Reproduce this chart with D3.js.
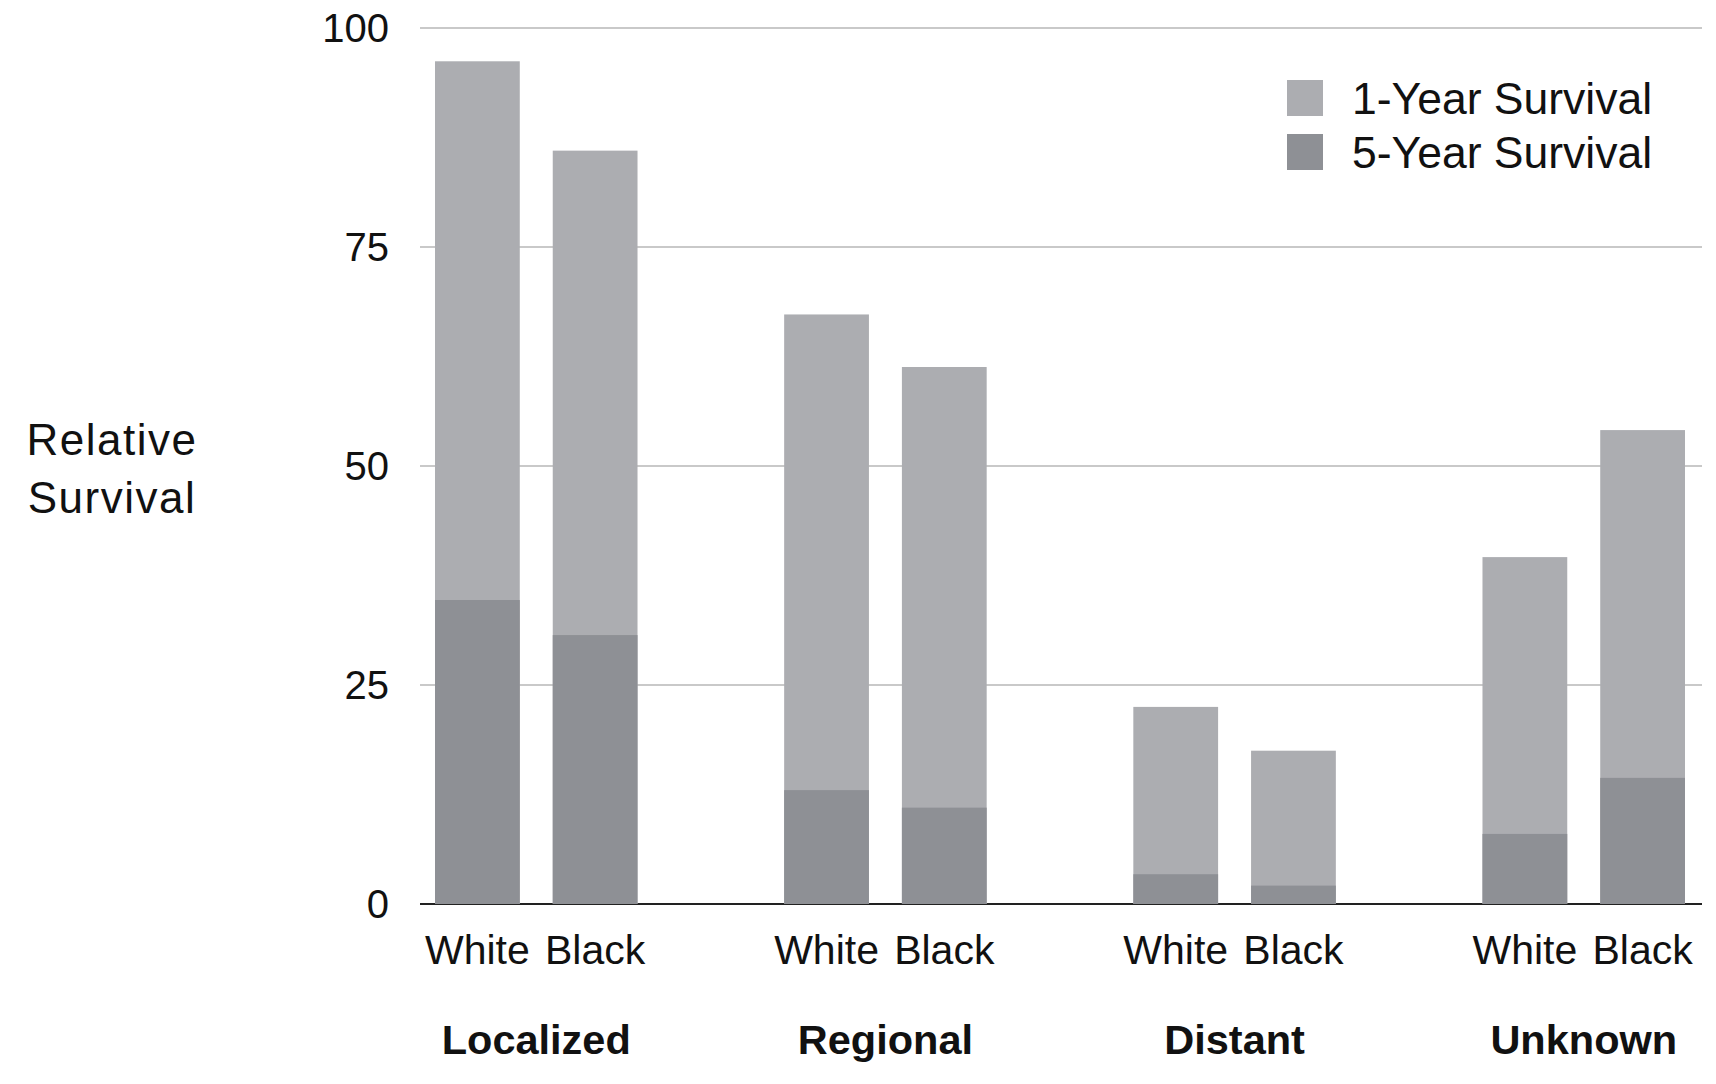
<!DOCTYPE html>
<html>
<head>
<meta charset="utf-8">
<script src="https://cdn.jsdelivr.net/npm/d3@7"></script>
<style>
  body { margin: 0; background: #fff; }
  svg text { font-family: "Liberation Sans", Arial, sans-serif; fill: #111; }
</style>
</head>
<body>
<div id="chart"></div>
<script>
const width = 1716;
const height = 1084;

// stages and races
const groups = ['Localized', 'Regional', 'Distant', 'Unknown'];
const races = ['White', 'Black'];

// relative survival (%)
const oneYearWhite = [96.2, 67.3, 22.5, 39.6];
const oneYearBlack = [86.0, 61.3, 17.5, 54.1];
const fiveYearWhite = [34.7, 13.0, 3.4, 8.0];
const fiveYearBlack = [30.7, 11.0, 2.1, 14.4];

const yTicks = [0, 25, 50, 75, 100];
const legendLabels = ['1-Year Survival', '5-Year Survival'];

const color = d3.scaleOrdinal()
    .domain(legendLabels)
    .range(['#acadb1', '#8e9095']);

// flatten into rows for drawing
const rows = [];
groups.forEach((g, i) => {
    rows.push({group: g, race: 'White', one: oneYearWhite[i], five: fiveYearWhite[i]});
    rows.push({group: g, race: 'Black', one: oneYearBlack[i], five: fiveYearBlack[i]});
});

const svg = d3.select('#chart').append('svg')
    .attr('width', width)
    .attr('height', height);

const y = d3.scaleLinear().domain([0, 100]).range([904, 28]);

const x0 = d3.scaleBand()
    .domain(groups)
    .range([435, 1685])
    .paddingInner(0.42)
    .paddingOuter(0);

const x1 = d3.scaleBand()
    .domain(races)
    .range([0, x0.bandwidth()])
    .paddingInner(0.28)
    .paddingOuter(0);

const gridLeft = 420, gridRight = 1702;

// gridlines
svg.append('g')
    .selectAll('line')
    .data(yTicks.filter(d => d > 0))
    .join('line')
    .attr('x1', gridLeft)
    .attr('x2', gridRight)
    .attr('y1', d => y(d))
    .attr('y2', d => y(d))
    .attr('stroke', '#c9c9c9')
    .attr('stroke-width', 2);

// baseline
svg.append('line')
    .attr('x1', gridLeft)
    .attr('x2', gridRight)
    .attr('y1', y(0))
    .attr('y2', y(0))
    .attr('stroke', '#222')
    .attr('stroke-width', 2);

// y tick labels
svg.append('g')
    .selectAll('text')
    .data(yTicks)
    .join('text')
    .attr('x', 389)
    .attr('y', d => y(d))
    .attr('dy', '0.36em')
    .attr('text-anchor', 'end')
    .style('font-size', '40px')
    .text(d => d);

// y axis title
svg.append('text')
    .attr('text-anchor', 'middle')
    .style('font-size', '44px')
    .style('letter-spacing', '1.5px')
    .selectAll('tspan')
    .data(['Relative', 'Survival'])
    .join('tspan')
    .attr('x', 112)
    .attr('y', (d, i) => 455 + i * 58)
    .text(d => d);

// bars: 1-year full height, 5-year overlaid from zero
const bars = svg.append('g')
    .selectAll('g.bar')
    .data(rows)
    .join('g')
    .attr('class', 'bar')
    .attr('transform', d => `translate(${x0(d.group) + x1(d.race)},0)`);

bars.append('rect')
    .attr('width', x1.bandwidth())
    .attr('y', d => y(d.one))
    .attr('height', d => y(0) - y(d.one))
    .attr('fill', color('1-Year Survival'));

bars.append('rect')
    .attr('width', x1.bandwidth())
    .attr('y', d => y(d.five))
    .attr('height', d => y(0) - y(d.five))
    .attr('fill', color('5-Year Survival'));

// race labels under each bar
svg.append('g')
    .selectAll('text')
    .data(rows)
    .join('text')
    .attr('x', d => x0(d.group) + x1(d.race) + x1.bandwidth() / 2)
    .attr('y', 964)
    .attr('text-anchor', 'middle')
    .style('font-size', '41px')
    .text(d => d.race);

// stage labels
svg.append('g')
    .selectAll('text')
    .data(groups)
    .join('text')
    .attr('x', d => x0(d) + x0.bandwidth() / 2)
    .attr('y', 1054)
    .attr('text-anchor', 'middle')
    .style('font-size', '41.5px')
    .style('font-weight', 'bold')
    .text(d => d);

// legend
const legend = svg.append('g')
    .selectAll('g')
    .data(legendLabels)
    .join('g')
    .attr('transform', (d, i) => `translate(1287,${80 + i * 54})`);

legend.append('rect')
    .attr('width', 36)
    .attr('height', 36)
    .attr('fill', d => color(d));

legend.append('text')
    .attr('x', 65)
    .attr('y', 34)
    .style('font-size', '44.5px')
    .text(d => d);
</script>
</body>
</html>
